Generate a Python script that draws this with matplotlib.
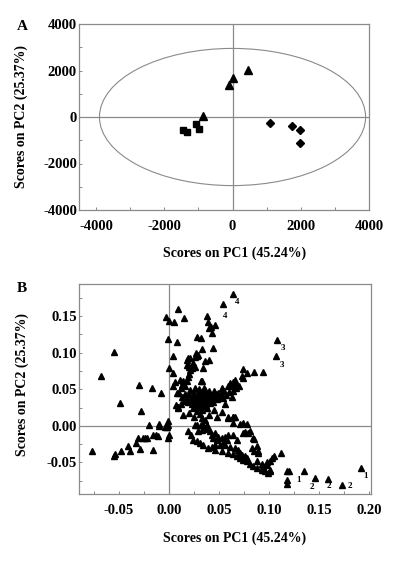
import matplotlib
matplotlib.use('Agg')
import matplotlib.pyplot as plt
from matplotlib.patches import Ellipse
from matplotlib.ticker import MultipleLocator

plt.rcParams['font.family'] = ['Liberation Serif', 'DejaVu Serif']
plt.rcParams['font.weight'] = 'bold'
plt.rcParams['axes.unicode_minus'] = False

# ---- panel A: sample scores ----
tri_x = [-105, 20, 458, -876]
tri_y = [1363, 1677, 2008, 60]
sq_x = [-1460, -1332, -1060, -993]
sq_y = [-572, -645, -314, -516]
dia_x = [1101, 1752, 1967, 1967]
dia_y = [-241, -370, -542, -1101]
ellipse_w = 7800
ellipse_h = 5900

# ---- panel B: variable scores ----
pts_b = [
    # upper arm and labelled tips
    (0.0637, 0.180), (0.0543, 0.166), (0.0093, 0.159), (-0.0033, 0.149),
    (0.000, 0.1426), (0.0047, 0.1417), (0.015, 0.1467), (0.0383, 0.150),
    (0.0393, 0.141), (0.042, 0.135), (0.046, 0.137), (0.040, 0.133),
    (0.043, 0.126), (0.0283, 0.1216), (0.0317, 0.120), (-0.001, 0.1185),
    (0.0077, 0.114), (0.0333, 0.1045), (0.0437, 0.106), (0.1083, 0.117),
    (0.1067, 0.0957), (-0.0547, 0.101), (0.0043, 0.0957), (0.0267, 0.099),
    (0.029, 0.096), (0.0255, 0.094), (0.0187, 0.0926), (0.040, 0.090),
    (0.0177, 0.090), (0.021, 0.092), (0.0277, 0.0957), (0.0243, 0.0854),
    (0.0193, 0.0831), (0.0227, 0.0786), (0.026, 0.0808), (0.0177, 0.083),
    (0.0197, 0.080), (0.0207, 0.0763), (0.0203, 0.0708), (0.0187, 0.0667),
    (0.0177, 0.0617), (0.032, 0.0617), (0.0333, 0.0617), (0.014, 0.0613),
    (0.013, 0.0558), (0.0003, 0.0795), (0.0043, 0.0726), (0.006, 0.060),
    (0.0043, 0.055), (0.0077, 0.0445), (0.036, 0.0885), (0.034, 0.0795),
    # left scatter
    (-0.0683, 0.068), (-0.0493, 0.0317), (-0.030, 0.0558), (-0.0167, 0.0513),
    (-0.0077, 0.0445), (-0.028, 0.0209), (-0.0203, 0.0014), (-0.0097, 0.0023),
    (-0.001, 0.0072), (-0.0023, -0.0018), (-0.0007, 0.0014),
    # right arm
    (0.0737, 0.077), (0.0777, 0.072), (0.085, 0.073), (0.0943, 0.074),
    (0.074, 0.065), (0.0727, 0.068), (0.066, 0.0626), (0.0643, 0.0595),
    (0.061, 0.0581), (0.0593, 0.0549), (0.0627, 0.0549), (0.067, 0.0568),
    (0.011, 0.0626), (0.036, 0.049), (0.0527, 0.0513), (0.055, 0.048),
    (0.049, 0.0445), (0.0627, 0.040), (0.056, 0.0296), (0.0527, 0.0187),
    (0.064, 0.0127), (0.066, 0.0127), (0.0587, 0.0105), (0.064, 0.0037),
    (0.074, 0.0037), (0.0343, 0.0245), (0.0277, 0.020), (0.031, 0.0155),
    (0.0327, 0.0105), (0.0343, 0.0014), (0.0317, 0.0014), (0.0277, 0.0014),
    (0.0093, 0.024), (0.0137, 0.015), (0.0093, 0.0263), (0.007, 0.0286),
    (0.071, 0.0027), (0.0777, 0.0027), (0.0587, 0.0127), (0.0643, 0.0118),
    # central cluster
    (0.010, 0.045), (0.013, 0.040), (0.016, 0.044), (0.018, 0.038),
    (0.020, 0.043), (0.022, 0.036), (0.024, 0.040), (0.025, 0.045),
    (0.027, 0.034), (0.028, 0.039), (0.029, 0.043), (0.030, 0.030),
    (0.031, 0.036), (0.032, 0.040), (0.033, 0.046), (0.034, 0.033),
    (0.035, 0.038), (0.036, 0.042), (0.037, 0.028), (0.038, 0.035),
    (0.039, 0.040), (0.040, 0.044), (0.041, 0.031), (0.042, 0.037),
    (0.043, 0.041), (0.044, 0.033), (0.045, 0.039), (0.047, 0.043),
    (0.048, 0.036), (0.050, 0.040), (0.052, 0.044), (0.054, 0.038),
    (0.057, 0.042), (0.023, 0.030), (0.026, 0.027), (0.019, 0.032),
    (0.015, 0.034), (0.012, 0.030), (0.021, 0.049), (0.026, 0.051),
    (0.030, 0.050), (0.035, 0.052), (0.040, 0.048), (0.045, 0.047),
    (0.060, 0.046), (0.064, 0.048), (0.067, 0.052), (0.070, 0.055),
    (0.012, 0.052), (0.016, 0.055), (0.024, 0.024), (0.029, 0.026),
    (0.033, 0.021), (0.038, 0.024), (0.020, 0.018), (0.025, 0.012),
    (0.036, 0.008), (0.040, 0.015), (0.045, 0.021), (0.048, 0.012),
    # lower-left arm
    (-0.0767, -0.035), (-0.0553, -0.0405), (-0.0545, -0.039), (-0.0483, -0.035),
    (-0.039, -0.034), (-0.041, -0.027), (-0.0293, -0.032), (-0.0327, -0.0236),
    (-0.0313, -0.0168), (-0.0257, -0.0168), (-0.0237, -0.0168), (-0.0217, -0.0168),
    (-0.016, -0.0336), (-0.016, -0.0125), (-0.013, -0.013), (-0.011, -0.0145),
    (-0.010, 0.000), (-0.0037, -0.001), (-0.001, -0.0163), (0.000, -0.013),
    # lower band towards the right
    (0.0193, -0.0068), (0.022, -0.0123), (0.0243, -0.019), (0.0277, -0.0213),
    (0.031, -0.0236), (0.0343, -0.0259), (0.0293, -0.0077), (0.0327, -0.0054),
    (0.036, -0.0032), (0.0377, 0.0014), (0.0393, -0.004), (0.041, -0.0077),
    (0.026, 0.0014), (0.0427, -0.0123), (0.0443, -0.0168), (0.046, -0.010),
    (0.0477, -0.019), (0.0493, -0.0146), (0.0527, -0.0168), (0.056, -0.0146),
    (0.0577, -0.019), (0.0593, -0.0123), (0.0543, -0.0236), (0.051, -0.0259),
    (0.046, -0.0259), (0.0427, -0.0282), (0.0393, -0.0304), (0.046, -0.0327),
    (0.0527, -0.035), (0.0593, -0.0372), (0.0643, -0.0386), (0.0677, -0.0418),
    (0.071, -0.044), (0.0743, -0.0463), (0.0777, -0.0486), (0.081, -0.0522),
    (0.0843, -0.0554), (0.0877, -0.0576), (0.0927, -0.0599), (0.096, -0.0622),
    (0.0993, -0.0645), (0.0643, -0.0123), (0.0677, -0.019), (0.0743, -0.010),
    (0.076, -0.0086), (0.081, -0.0077), (0.0843, -0.016), (0.0827, -0.0304),
    (0.0853, -0.034), (0.0893, -0.0372), (0.0877, -0.0477), (0.0927, -0.0522),
    (0.0977, -0.0531), (0.1027, -0.044), (0.056, -0.0259), (0.061, -0.0282),
    (0.066, -0.0304), (0.0693, -0.0327), (0.071, -0.0372), (0.0727, -0.0395),
    (0.076, -0.0418), (0.0777, -0.044), (0.0793, -0.010), (0.085, -0.018),
    (0.0877, -0.028), (0.0893, -0.035), (0.0977, -0.050), (0.0943, -0.0554),
    (0.101, -0.062), (0.112, -0.0372), (0.105, -0.0418), (0.101, -0.0486),
    (0.101, -0.060), (0.118, -0.0622), (0.120, -0.0622), (0.118, -0.0735),
    (0.118, -0.079), (0.135, -0.0622), (0.146, -0.0713), (0.159, -0.0722),
    (0.173, -0.0808), (0.1917, -0.0576),
]
b_x = [p[0] for p in pts_b]
b_y = [p[1] for p in pts_b]

# numbered variables
lab_x = [0.0637, 0.0543, 0.1083, 0.1067, 0.120, 0.146, 0.159, 0.173, 0.1917]
lab_y = [0.180, 0.166, 0.117, 0.0957, -0.0622, -0.0713, -0.0722, -0.0808, -0.0576]
lab_txt = ['4', '4', '3', '3', '1', '2', '2', '2', '1']
lab_off = [(3, -6), (1, -8.5), (4.3, -6), (4.3, -6.7), (7, -6),
           (-2.6, -6.5), (0.7, -5.5), (5.5, -1), (3.3, -6)]

W, H = 396, 564
fig = plt.figure(figsize=(W / 100, H / 100), dpi=100)
grey = '#8a8a8a'


def style_axes(ax):
    for s in ax.spines.values():
        s.set_color(grey)
        s.set_linewidth(0.9)
    ax.tick_params(which='both', direction='in', color=grey, width=0.7)
    ax.tick_params(which='major', length=2.5, labelsize=10.5)
    ax.tick_params(which='minor', length=2)
    ax.tick_params(axis='x', pad=7)
    ax.tick_params(axis='y', pad=1.5)
    for lb in ax.get_xticklabels() + ax.get_yticklabels():
        lb.set_fontweight('bold')
    ax.axhline(0, color=grey, lw=0.9, zorder=1)
    ax.axvline(0, color=grey, lw=0.9, zorder=1)


# ---- A ----
axA = fig.add_axes([79 / W, 1 - 210 / H, 290 / W, 186 / H])
axA.add_patch(Ellipse((0, 0), ellipse_w, ellipse_h, fill=False,
                      edgecolor=grey, lw=0.8, zorder=1))
axA.plot(tri_x, tri_y, '^', color='black', ms=6, zorder=3)
axA.plot(sq_x, sq_y, 's', color='black', ms=4.5, zorder=3)
axA.plot(dia_x, dia_y, 'D', color='black', ms=4.5, zorder=3)
axA.set_xlim(-4500, 4000)
axA.set_ylim(-4000, 4000)
axA.set_xticks([-4000, -2000, 0, 2000, 4000])
axA.set_yticks([-4000, -2000, 0, 2000, 4000])
axA.xaxis.set_minor_locator(MultipleLocator(1000))
axA.yaxis.set_minor_locator(MultipleLocator(1000))
style_axes(axA)

# ---- B ----
axB = fig.add_axes([79 / W, 1 - 494 / H, 292 / W, 210 / H])
axB.plot(b_x, b_y, '^', color='black', ms=4.5, zorder=3)
for x, y, t, o in zip(lab_x, lab_y, lab_txt, lab_off):
    axB.annotate(t, (x, y), xytext=o, textcoords='offset points',
                 ha='center', va='center', fontsize=6.5, fontweight='bold')
axB.set_xlim(-0.09, 0.202)
axB.set_ylim(-0.093, 0.1935)
axB.set_xticks([-0.05, 0.0, 0.05, 0.10, 0.15, 0.20])
axB.set_yticks([-0.05, 0.0, 0.05, 0.10, 0.15])
axB.xaxis.set_minor_locator(MultipleLocator(0.025))
axB.yaxis.set_minor_locator(MultipleLocator(0.025))
axB.xaxis.set_major_formatter(plt.FormatStrFormatter('%.2f'))
axB.yaxis.set_major_formatter(plt.FormatStrFormatter('%.2f'))
style_axes(axB)

# ---- labels ----
def ftext(px, py, s, **kw):
    fig.text(px / W, 1 - py / H, s, ha='center', va='center',
             fontweight='bold', **kw)


ftext(22, 26, 'A', fontsize=11)
ftext(22, 288, 'B', fontsize=11)
ftext(21.7, 116, 'Scores on PC2 (25.37%)', fontsize=10, rotation=90)
ftext(22, 385, 'Scores on PC2 (25.37%)', fontsize=10, rotation=90)
ftext(235, 253, 'Scores on PC1 (45.24%)', fontsize=10)
ftext(235, 538, 'Scores on PC1 (45.24%)', fontsize=10)

fig.savefig('out.png', dpi=100, facecolor='white')
